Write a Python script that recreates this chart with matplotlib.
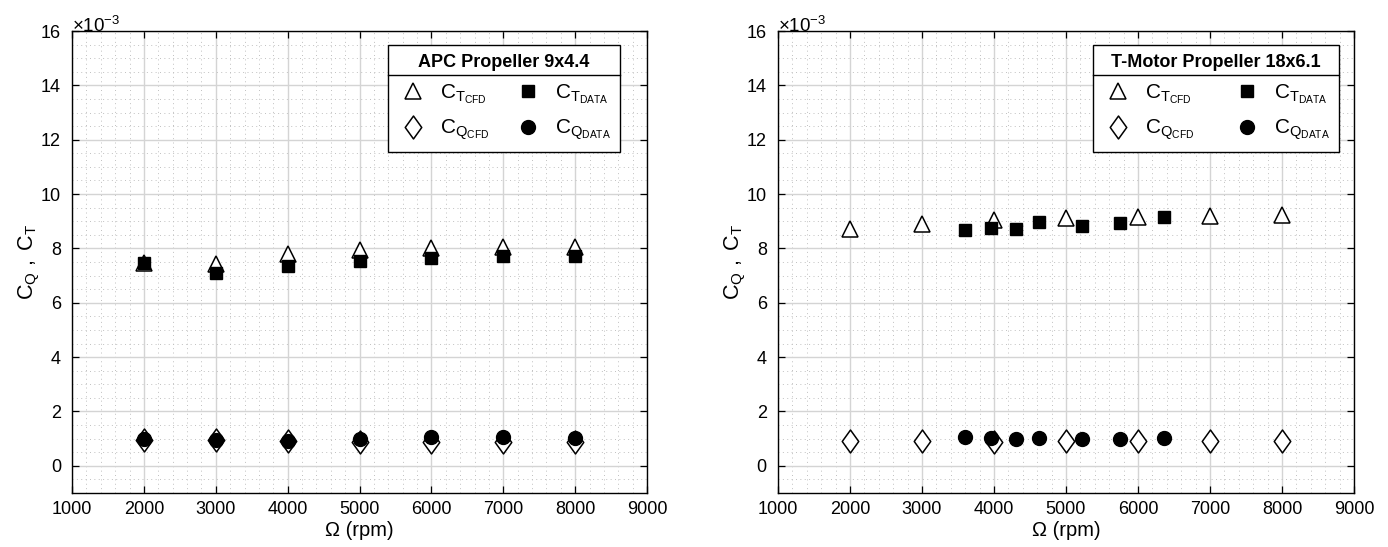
import matplotlib
matplotlib.use("Agg")
import matplotlib.pyplot as plt
from matplotlib.ticker import MultipleLocator
from matplotlib.path import Path
from matplotlib.lines import Line2D

plt.rcParams['font.family'] = ['Liberation Sans', 'DejaVu Sans']
plt.rcParams['mathtext.fontset'] = 'custom'
plt.rcParams['mathtext.rm'] = 'Liberation Sans'
plt.rcParams['mathtext.it'] = 'Liberation Sans:italic'
plt.rcParams['mathtext.bf'] = 'Liberation Sans:bold'

# ---- data (values in units of 1e-3) ----
rpm_cfd = [2000, 3000, 4000, 5000, 6000, 7000, 8000]

apc_ct_cfd = [7.45, 7.43, 7.78, 7.96, 8.03, 8.06, 8.06]
apc_cq_cfd = [0.95, 0.94, 0.92, 0.89, 0.88, 0.88, 0.88]
apc_rpm_data = [2000, 3000, 4000, 5000, 6000, 7000, 8000]
apc_ct_data = [7.47, 7.10, 7.36, 7.55, 7.66, 7.71, 7.71]
apc_cq_data = [0.97, 0.95, 0.93, 1.00, 1.05, 1.05, 1.03]

tm_ct_cfd = [8.72, 8.91, 9.05, 9.12, 9.17, 9.21, 9.24]
tm_cq_cfd = [0.91, 0.91, 0.87, 0.91, 0.91, 0.91, 0.91]
tm_rpm_data = [3604, 3954, 4310, 4623, 5229, 5744, 6355]
tm_ct_data = [8.66, 8.76, 8.70, 8.98, 8.81, 8.94, 9.16]
tm_cq_data = [1.05, 1.01, 0.99, 1.01, 0.99, 0.99, 1.04]

titles = ["APC Propeller 9x4.4", "T-Motor Propeller 18x6.1"]
labels = [r'$\mathrm{C}_{\mathrm{T}_{\mathrm{CFD}}}$',
          r'$\mathrm{C}_{\mathrm{Q}_{\mathrm{CFD}}}$',
          r'$\mathrm{C}_{\mathrm{T}_{\mathrm{DATA}}}$',
          r'$\mathrm{C}_{\mathrm{Q}_{\mathrm{DATA}}}$']

diamond = Path([(0, 1), (0.72, 0), (0, -1), (-0.72, 0), (0, 1)],
               [Path.MOVETO, Path.LINETO, Path.LINETO, Path.LINETO, Path.CLOSEPOLY])

fig = plt.figure(figsize=(13.88, 5.47), dpi=100)
ax1 = fig.add_axes([0.0519, 0.0987, 0.4143, 0.8446])
ax2 = fig.add_axes([0.5605, 0.0987, 0.4150, 0.8446])

panels = [
    (ax1, apc_ct_cfd, apc_cq_cfd, apc_rpm_data, apc_ct_data, apc_cq_data, (0.550, 0.742, 0.403, 0.228)),
    (ax2, tm_ct_cfd, tm_cq_cfd, tm_rpm_data, tm_ct_data, tm_cq_data, (0.547, 0.742, 0.427, 0.228)),
]

legends = []
for i, (ax, ctc, cqc, rd, ctd, cqd, bb) in enumerate(panels):
    h1, = ax.plot(rpm_cfd, ctc, linestyle='none', marker='^', ms=11, mfc='white', mec='black', mew=1.1)
    h2, = ax.plot(rpm_cfd, cqc, linestyle='none', marker=diamond, ms=16.5, mfc='white', mec='black', mew=1.1)
    h3, = ax.plot(rd, ctd, linestyle='none', marker='s', ms=8.5, mfc='black', mec='black')
    h4, = ax.plot(rd, cqd, linestyle='none', marker='o', ms=10, mfc='black', mec='black')

    ax.set_xlim(1000, 9000)
    ax.set_ylim(-1, 16)
    ax.xaxis.set_major_locator(MultipleLocator(1000))
    ax.xaxis.set_minor_locator(MultipleLocator(200))
    ax.yaxis.set_major_locator(MultipleLocator(2))
    ax.yaxis.set_minor_locator(MultipleLocator(0.5))
    ax.grid(True, which='major', color='#d4d4d4', linewidth=1.0, linestyle='-')
    ax.grid(True, which='minor', color='#c0c0c0', linewidth=0.7, linestyle=(0, (1, 3.5)))
    ax.set_axisbelow(True)
    ax.tick_params(which='both', direction='in', top=True, right=True, labelsize=13)
    ax.tick_params(which='major', length=5, width=0.9)
    ax.tick_params(axis='y', which='major', pad=8)
    ax.tick_params(axis='x', which='major', pad=6)
    ax.tick_params(which='minor', length=0)
    for s in ax.spines.values():
        s.set_linewidth(1.0)
    ax.set_xlabel('Ω (rpm)', fontsize=14.5, labelpad=2)
    ax.set_ylabel(r'$\mathrm{C}_\mathrm{Q}\ ,\ \mathrm{C}_\mathrm{T}$', fontsize=15.5, labelpad=-1)
    ax.text(0.0, 0.99, r'$\times\mathrm{10}^{\mathrm{-3}}$', transform=ax.transAxes,
            ha='left', va='bottom', fontsize=13.5)

    leg = ax.legend([h1, h2, h3, h4], labels, ncol=2, loc='upper left', bbox_to_anchor=bb,
                    mode='expand', title=titles[i], title_fontproperties={'weight': 'bold', 'size': 13},
                    fontsize=15, frameon=True, fancybox=False, edgecolor='black', framealpha=1,
                    borderpad=0.45, labelspacing=0.55, handletextpad=0.55, handlelength=1.5,
                    borderaxespad=0)
    leg.get_frame().set_linewidth(1.0)
    legends.append(leg)

fig.canvas.draw()
inv = fig.transFigure.inverted()
for leg in legends:
    fb = leg.get_frame().get_window_extent()
    tb = leg.get_title().get_window_extent()
    y = tb.y0 - 4
    (x0, yy), (x1, _) = inv.transform([(fb.x0, y), (fb.x1, y)])
    fig.add_artist(Line2D([x0, x1], [yy, yy], transform=fig.transFigure, color='black', linewidth=1.0))

fig.savefig('out.png', dpi=100)
